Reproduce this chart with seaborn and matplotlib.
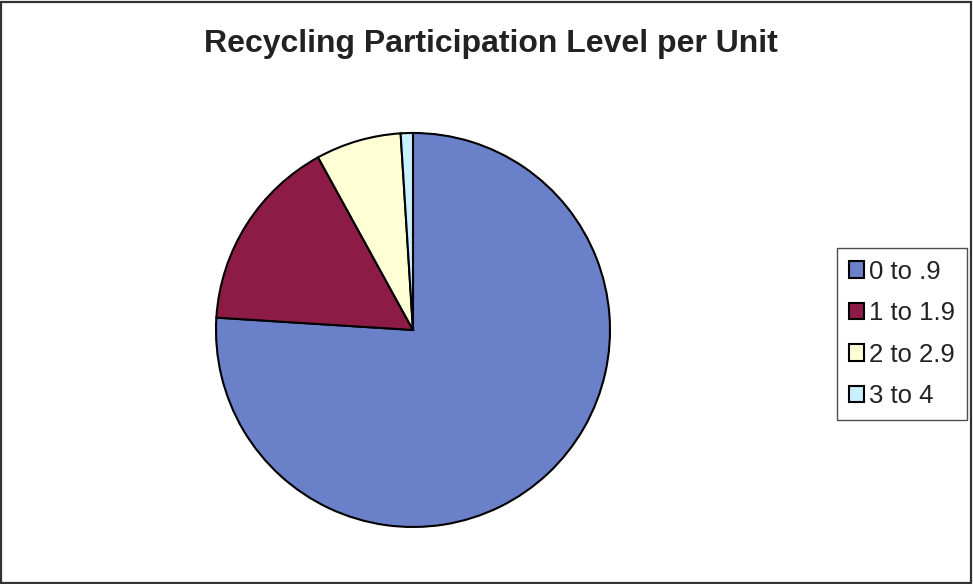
import matplotlib
matplotlib.use("Agg")
import matplotlib.pyplot as plt
from matplotlib.patches import Rectangle
import seaborn as sns

# Participation level groups and share of units in each
categories = ["0 to .9", "1 to 1.9", "2 to 2.9", "3 to 4"]
shares = [76, 16, 7, 1]
colors = ["#6A80C8", "#8C1C46", "#FFFFD6", "#C8F0FF"]

sns.set_theme(style="white")
plt.rcParams["font.family"] = ["Liberation Sans", "DejaVu Sans"]

fig = plt.figure(figsize=(9.73, 5.84), dpi=100)
fig.patch.set_facecolor("white")

# outer chart frame
fig.patches.append(Rectangle((0.001, 0.002), 0.997, 0.995, transform=fig.transFigure,
                             fill=False, edgecolor="#333333", linewidth=1.6))

W, H = 973, 584
ax = fig.add_axes([215 / W, 1 - 543 / H, 408 / W, 415 / H])
ax.set_facecolor("#FCFCF6")
wedges, _ = ax.pie(shares, colors=colors, startangle=90, counterclock=False,
                   radius=1.0, wedgeprops=dict(edgecolor="black", linewidth=1.5))
ax.set_xlim(-1.005, 1.066)
ax.set_ylim(-1.081, 1.025)
ax.set_aspect("equal")
for s in ax.spines.values():
    s.set_visible(False)
ax.set_xticks([])
ax.set_yticks([])

fig.text(491 / W, 1 - 44 / H, "Recycling Participation Level per Unit",
         ha="center", va="center", fontsize=23, fontweight="bold", color="#222222")

leg = fig.legend(wedges, categories, loc="upper left",
                 bbox_to_anchor=(837 / W, 1 - 248 / H), fontsize=18.5,
                 frameon=True, fancybox=False, edgecolor="#222222",
                 handlelength=0.6, handleheight=0.6, handletextpad=0.2,
                 labelspacing=0.68, borderpad=0.45, borderaxespad=0)
leg.get_frame().set_linewidth(1.0)
for t in leg.get_texts():
    t.set_color("#222222")

fig.savefig("out.png", dpi=100)
